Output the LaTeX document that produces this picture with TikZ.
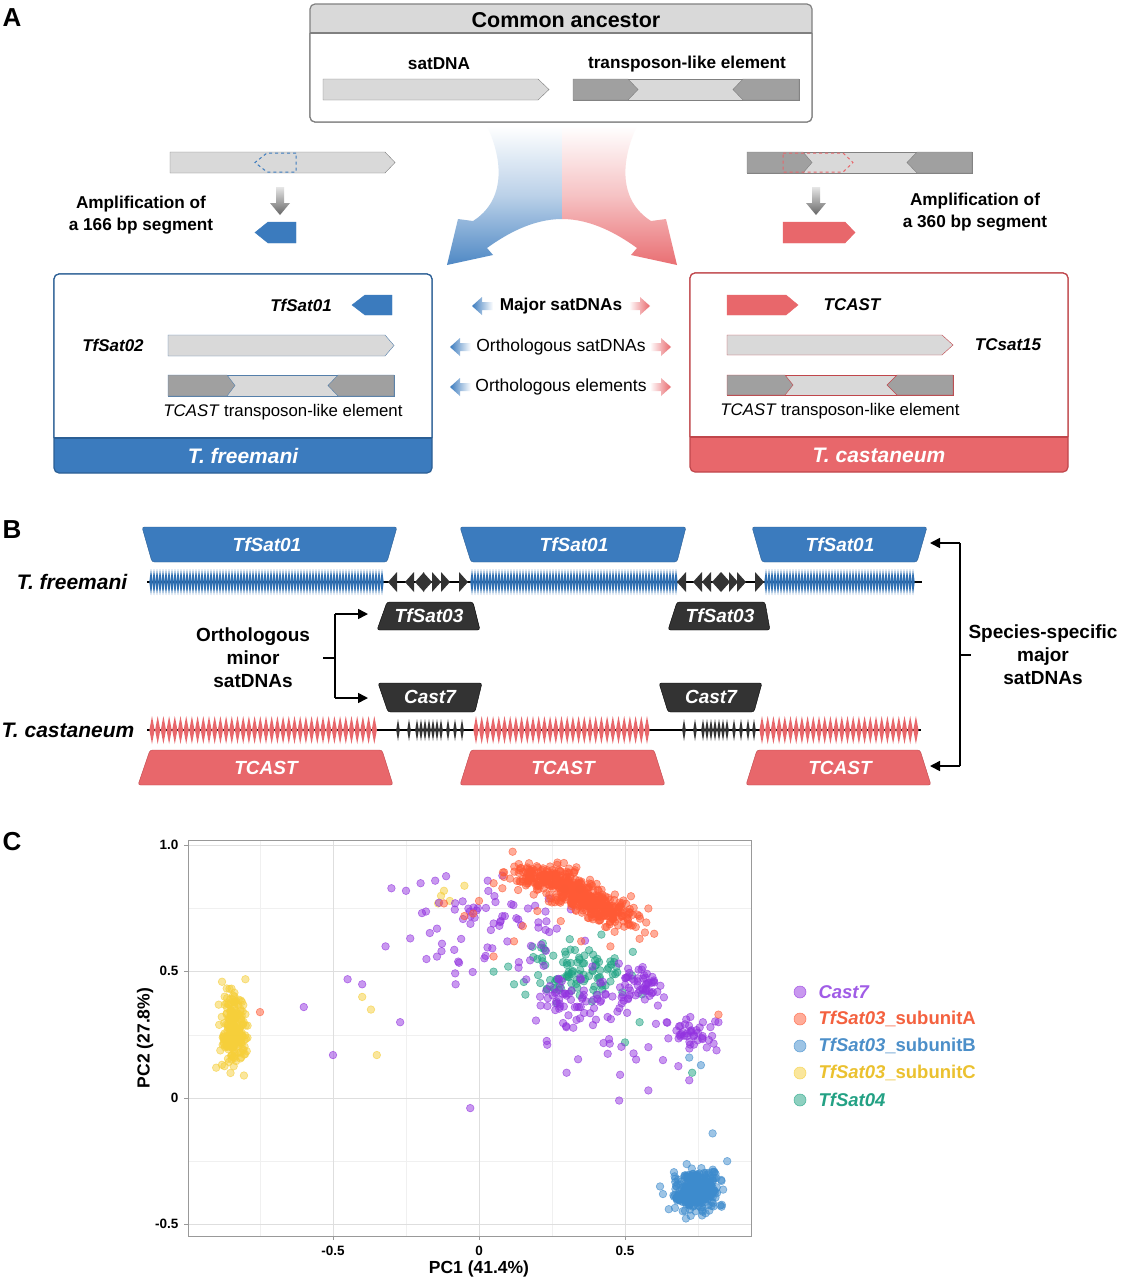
\documentclass[tikz,border=0pt]{standalone}
\usepackage{fontspec}
\setmainfont{Liberation Sans}
\usetikzlibrary{arrows.meta}
\definecolor{tfblue}{HTML}{3B7BBE}
\definecolor{tfbluedk}{HTML}{2B5F95}
\definecolor{tfteeth}{HTML}{2F6FB2}
\definecolor{tcred}{HTML}{E8676B}
\definecolor{tcreddk}{HTML}{C0464B}
\definecolor{lgray}{HTML}{D9D9D9}
\definecolor{dgray}{HTML}{A0A0A0}
\definecolor{bgray}{HTML}{808080}
\definecolor{dkbox}{HTML}{333333}
\definecolor{cpurp}{HTML}{9333E0}
\definecolor{corange}{HTML}{FF5A35}
\definecolor{cblue}{HTML}{3D8BCD}
\definecolor{cyellow}{HTML}{F6CF3A}
\definecolor{cteal}{HTML}{1FA383}
\definecolor{lpurp}{HTML}{A05CE6}
\definecolor{lorange}{HTML}{F4613F}
\definecolor{lblue}{HTML}{4C8FC9}
\definecolor{lyellow}{HTML}{EBC12F}
\definecolor{lteal}{HTML}{23A184}
\definecolor{gridmaj}{HTML}{DEDEDE}
\definecolor{gridmin}{HTML}{F0F0F0}
\newcommand\fsz[1]{\fontsize{#1}{#1}\selectfont}
% right-pointing pentagon: x1, tip, ytop, ybot, shoulder, style
\newcommand\rpent[6]{\draw[#6] (#1,#3) -- (#5,#3) -- (#2,{(#3+#4)/2}) -- (#5,#4) -- (#1,#4) -- cycle;}
% left-pointing pentagon: tip, x2, ytop, ybot, shoulder, style
\newcommand\lpent[6]{\draw[#6] (#2,#3) -- (#5,#3) -- (#1,{(#3+#4)/2}) -- (#5,#4) -- (#2,#4) -- cycle;}
% transposon element
\newcommand\telem[9]{%
 \draw[fill=lgray,draw=#9] (#1,#3) rectangle (#2,#4);
 \draw[fill=dgray,draw=#9] (#1,#3) -- (#6,#3) -- (#5,{(#3+#4)/2}) -- (#6,#4) -- (#1,#4) -- cycle;
 \draw[fill=dgray,draw=#9] (#2,#3) -- (#8,#3) -- (#7,{(#3+#4)/2}) -- (#8,#4) -- (#2,#4) -- cycle;}
% trapezoid: xtl, xtr, xbl, xbr, yt, yb, style
\newcommand\trapz[7]{\draw[#7,rounded corners=2.5pt] (#1,#5) -- (#2,#5) -- (#4,#6) -- (#3,#6) -- cycle;}
% small gradient legend arrows
\newcommand\bluearr[2]{\shade[left color=tfblue, right color=white] (#1,#2) -- (#1+10,#2-9) -- (#1+10,#2-4) -- (#1+21,#2-4) -- (#1+21,#2+4) -- (#1+10,#2+4) -- (#1+10,#2+9) -- cycle;}
\newcommand\redarr[2]{\shade[left color=white, right color=tcred] (#1,#2) -- (#1-10,#2-9) -- (#1-10,#2-4) -- (#1-21,#2-4) -- (#1-21,#2+4) -- (#1-10,#2+4) -- (#1-10,#2+9) -- cycle;}
\newcommand\downarr[1]{\shade[top color=white!80!gray, bottom color=black!60] (#1-4,187) -- (#1+4,187) -- (#1+4,203) -- (#1+10,203) -- (#1,215) -- (#1-10,203) -- (#1-4,203) -- cycle;}
% scatter clouds
\newcommand\gcloud[6]{\foreach \k in {1,...,#1}{%
 \pgfmathsetmacro\gx{479+292*((#2)+(#4)*(rand+rand+rand))}%
 \pgfmathsetmacro\gy{1098-252.7*((#3)+(#5)*(rand+rand+rand))}%
 \path[dot=#6] (\gx,\gy) circle[radius=3.8];}}
\newcommand\rcloud[7]{\foreach \k in {1,...,#1}{%
 \pgfmathsetmacro\ga{rand+rand+rand}%
 \pgfmathsetmacro\gb{rand+rand+rand}%
 \pgfmathsetmacro\gx{479+292*((#2)+(#4)*\ga)}%
 \pgfmathsetmacro\gy{1098-252.7*((#3)+(#6)*(#4)*\ga+(#5)*\gb)}%
 \path[dot=#7] (\gx,\gy) circle[radius=3.8];}}
\newcommand\dlist[2]{\foreach \a/\b in {#2}{\path[dot=#1] ({479+292*(\a)},{1098-252.7*(\b)}) circle[radius=3.8];}}
\begin{document}
\begin{tikzpicture}[x=1pt,y=-1pt,
  dot/.style={fill=#1, draw=#1, fill opacity=0.5, draw opacity=0.65, line width=0.6pt},
  panel/.style={font=\fsz{26}\bfseries},
  bt/.style={font=\fsz{17.2}\bfseries},
  bit/.style={font=\fsz{17}\bfseries\itshape},
  rt/.style={font=\fsz{17}},
  wt/.style={font=\fsz{19}\bfseries\itshape, text=white},
  arr/.style={-{Triangle[length=10pt,width=10pt]}, line width=1.6pt}]
\useasboundingbox (0,0) rectangle (1121,1280);
\fill[white] (0,0) rectangle (1121,1280);

% ================= Panel A =================
\node[panel] (lA) at (12,18) {A};
% common ancestor box
\draw[bgray, fill=lgray, line width=1.2pt, rounded corners=5pt] (310,4) rectangle (812,122);
\draw[bgray, fill=white, line width=1.2pt, rounded corners=5pt] (310,33) -- (310,122) -- (812,122) -- (812,33);
\draw[bgray, line width=1.2pt] (310,33) -- (812,33);
\node[font=\fsz{21.5}\bfseries] (ca) at (566,20) {Common ancestor};
\node[bt] (sd) at (439,64) {satDNA};
\node[bt] (tle) at (687,64) {transposon-like element};
\rpent{323}{549}{79}{100}{538}{fill=lgray, draw=bgray}
\telem{573}{799}{79}{100}{638}{628}{733}{743}{bgray}

% left amplification
\rpent{170}{395}{152}{173}{385}{fill=lgray, draw=bgray}
\lpent{255}{296}{153}{172}{267}{draw=tfblue, dashed, line width=1pt}
\downarr{280}
\lpent{255}{296}{222}{243}{268}{fill=tfblue, draw=tfblue}
\node[bt, align=center] (ampL) at (141,215) {Amplification of\\[5pt]a 166 bp segment};

% right amplification
\telem{747}{972}{152}{173}{812}{803}{907}{917}{bgray}
\rpent{783}{853}{153}{172}{843}{draw=tcred, dashed, line width=1pt}
\downarr{816}
\rpent{783}{855}{222}{243}{845}{fill=tcred, draw=tcred}
\node[bt, align=center] (ampR) at (975,212) {Amplification of\\[5pt]a 360 bp segment};

% big curved gradient arrows
\shade[top color=white, bottom color=tfblue!90, middle color=tfblue!35]
 (562,126) -- (487,126) .. controls (503,160) and (506,200) .. (473,221) -- (458,219) -- (447,265) -- (493,255) -- (487,248) .. controls (505,235) and (532,219) .. (562,219) -- cycle;
\shade[top color=white, bottom color=tcred!95, middle color=tcred!40]
 (562,126) -- (637,126) .. controls (621,160) and (618,200) .. (651,221) -- (666,219) -- (677,265) -- (631,255) -- (637,248) .. controls (619,235) and (592,219) .. (562,219) -- cycle;

% T. freemani box
\draw[tfbluedk, fill=tfblue, line width=1.2pt, rounded corners=5pt] (54,274) rectangle (432,473);
\draw[tfbluedk, fill=white, line width=1.2pt, rounded corners=5pt] (54,438) -- (54,274) -- (432,274) -- (432,438);
\draw[tfbluedk, line width=1.2pt] (54,438) -- (432,438);
\node[font=\fsz{21}\bfseries\itshape, text=white] (tfname) at (243,456) {T. freemani};
\node[bit] (tf01) at (301,305) {TfSat01};
\lpent{352}{392}{295}{315}{365}{fill=tfblue, draw=tfblue}
\node[bit] (tf02) at (113,345) {TfSat02};
\rpent{168}{394}{335}{356}{385}{fill=lgray, draw=tfbluedk!80}
\telem{168}{394}{375}{396}{235}{227}{328}{338}{tfbluedk!80}
\node[font=\fsz{16.8}] (tfte) at (283,412) {\textit{TCAST} transposon-like element};

% T. castaneum box
\draw[tcreddk, fill=tcred, line width=1.2pt, rounded corners=5pt] (690,273) rectangle (1068,472);
\draw[tcreddk, fill=white, line width=1.2pt, rounded corners=5pt] (690,437) -- (690,273) -- (1068,273) -- (1068,437);
\draw[tcreddk, line width=1.2pt] (690,437) -- (1068,437);
\node[font=\fsz{21}\bfseries\itshape, text=white] (tcname) at (879,455) {T. castaneum};
\rpent{727}{798}{295}{315}{786}{fill=tcred, draw=tcred}
\node[bit] (tcast) at (852,305) {TCAST};
\rpent{727}{953}{335}{355}{942}{fill=lgray, draw=tcreddk}
\node[bit] (tc15) at (1008,345) {TCsat15};
\telem{727}{953}{375}{395}{793}{785}{887}{897}{tcreddk}
\node[font=\fsz{16.8}] (tcte) at (840,411) {\textit{TCAST} transposon-like element};

% middle legend
\node[bt] (maj) at (561,306) {Major satDNAs};
\bluearr{472}{306}
\redarr{650}{306}
\node[font=\fsz{17.5}] (orts) at (561,347) {Orthologous satDNAs};
\bluearr{450}{347}
\redarr{671}{347}
\node[font=\fsz{17.5}] (orte) at (561,387) {Orthologous elements};
\bluearr{450}{387}
\redarr{671}{387}

% ================= Panel B =================
\node[panel] (lB) at (12,530) {B};
\node[font=\fsz{21}\bfseries\itshape] (tfB) at (72,582) {T. freemani};
\node[font=\fsz{21}\bfseries\itshape] (tcB) at (68,730) {T. castaneum};
\draw[line width=1.6pt] (147,582) -- (922,582);
\draw[line width=1.6pt] (147,730) -- (921,730);

% blue TfSat01 repeats
\foreach \x in {151,154,...,384} \fill[tfteeth] (\x,569) -- (\x+1.7,582) -- (\x,595) -- (\x-1.7,582) -- cycle;
\foreach \x in {472,475,...,676} \fill[tfteeth] (\x,569) -- (\x+1.7,582) -- (\x,595) -- (\x-1.7,582) -- cycle;
\foreach \x in {766,769,...,915} \fill[tfteeth] (\x,569) -- (\x+1.7,582) -- (\x,595) -- (\x-1.7,582) -- cycle;
% black TfSat03 arrows
\foreach \t in {388,405,415} \fill[dkbox] (\t,582) -- (\t+9,572) -- (\t+9,592) -- cycle;
\foreach \t in {432,441,450,468} \fill[dkbox] (\t,582) -- (\t-9,572) -- (\t-9,592) -- cycle;
\foreach \t in {677,693,702,712} \fill[dkbox] (\t,582) -- (\t+9,572) -- (\t+9,592) -- cycle;
\foreach \t in {730,738,746,764} \fill[dkbox] (\t,582) -- (\t-9,572) -- (\t-9,592) -- cycle;

% red TCAST repeats
\foreach \x in {152,157.7,...,377} \fill[tcred] (\x,716) -- (\x+2.6,730) -- (\x,744) -- (\x-2.6,730) -- cycle;
\foreach \x in {476,481.7,...,650} \fill[tcred] (\x,716) -- (\x+2.6,730) -- (\x,744) -- (\x-2.6,730) -- cycle;
\foreach \x in {762,767.7,...,917} \fill[tcred] (\x,716) -- (\x+2.6,730) -- (\x,744) -- (\x-2.6,730) -- cycle;
% black Cast7 repeats
\foreach \x in {398,409,417,421,425,429,433,437,441,448,455,462} \fill[dkbox] (\x,719) -- (\x+1.8,730) -- (\x,741) -- (\x-1.8,730) -- cycle;
\foreach \x in {684,695,703,707,711,715,719,723,727,734,741,748,754} \fill[dkbox] (\x,719) -- (\x+1.8,730) -- (\x,741) -- (\x-1.8,730) -- cycle;

% trapezoids
\trapz{142}{397}{152}{387}{527}{562}{fill=tfblue, draw=tfbluedk}
\trapz{460}{686}{471}{677}{527}{562}{fill=tfblue, draw=tfbluedk}
\trapz{752}{927}{762}{917}{527}{562}{fill=tfblue, draw=tfbluedk}
\node[wt] (b1) at (267,545) {TfSat01};
\node[wt] (b2) at (574,545) {TfSat01};
\node[wt] (b3) at (840,545) {TfSat01};
\trapz{387}{473}{377}{480}{602}{630}{fill=dkbox, draw=black}
\trapz{677}{765}{668}{770}{602}{630}{fill=dkbox, draw=black}
\node[wt] (s1) at (429,616) {TfSat03};
\node[wt] (s2) at (720,616) {TfSat03};
\trapz{378}{482}{388}{475}{683}{712}{fill=dkbox, draw=black}
\trapz{659}{762}{668}{754}{683}{712}{fill=dkbox, draw=black}
\node[wt] (c1) at (430,697) {Cast7};
\node[wt] (c2) at (711,697) {Cast7};
\trapz{150}{382}{138}{393}{750}{785}{fill=tcred, draw=tcreddk}
\trapz{471}{654}{460}{665}{750}{785}{fill=tcred, draw=tcreddk}
\trapz{757}{920}{746}{931}{750}{785}{fill=tcred, draw=tcreddk}
\node[wt] (t1) at (266,768) {TCAST};
\node[wt] (t2) at (563,768) {TCAST};
\node[wt] (t3) at (840,768) {TCAST};

% left bracket
\node[font=\fsz{19}\bfseries, align=center] (orthmin) at (253,658) {Orthologous\\[4pt]minor\\[4pt]satDNAs};
\coordinate (lbm) at (323,658);
\coordinate (lbv) at (335,658);
\coordinate (lbt) at (335,614);
\coordinate (lbb) at (335,698);
\coordinate (lat) at (368,614);
\coordinate (lab) at (368,698);
\draw[line width=1.6pt] (lbm) -- (lbv);
\draw[line width=1.6pt] (lbt) -- (lbb);
\draw[arr] (lbt) -- (lat);
\draw[arr] (lbb) -- (lab);

% right bracket
\node[font=\fsz{19}\bfseries, align=center] (spsp) at (1043,655) {Species-specific\\[4pt]major\\[4pt]satDNAs};
\coordinate (rbt) at (960,543);
\coordinate (rbb) at (960,766);
\coordinate (rbm) at (960,655);
\coordinate (rbmo) at (971,655);
\coordinate (rat) at (930,543);
\coordinate (rab) at (930,766);
\draw[line width=1.6pt] (rbt) -- (rbb);
\draw[line width=1.6pt] (rbm) -- (rbmo);
\draw[arr] (rbt) -- (rat);
\draw[arr] (rbb) -- (rab);

% ================= Panel C =================
\node[panel] (lC) at (12,842) {C};
% grid
\foreach \x in {260,406,552,698} \draw[gridmin, line width=0.6pt] (\x,840) -- (\x,1236);
\foreach \y in {908,1035,1161} \draw[gridmin, line width=0.6pt] (188,\y) -- (751,\y);
\foreach \x in {333,479,625} \draw[gridmaj, line width=1pt] (\x,840) -- (\x,1236);
\foreach \y in {845,971,1098,1224} \draw[gridmaj, line width=1pt] (188,\y) -- (751,\y);

\begin{scope}
\clip (188,840) rectangle (751,1236);
\pgfmathsetseed{4242}
% yellow: TfSat03 subunit C
\gcloud{220}{-0.84}{0.265}{0.021}{0.07}{cyellow}
\dlist{cyellow}{-0.13/0.80,-0.12/0.82,-0.14/0.77,-0.40/0.40,-0.35/0.17,-0.37/0.35,-0.05/0.84,-0.10/0.78,-0.88/0.46,-0.80/0.47,-0.90/0.12}
% blue: TfSat03 subunit B
\gcloud{320}{0.745}{-0.37}{0.037}{0.04}{cblue}
\dlist{cblue}{0.62/-0.35,0.63/-0.38,0.65/-0.44,0.67/-0.31,0.80/-0.14,0.85/-0.25,0.81/-0.30,0.76/0.13,0.72/0.16}
% teal: TfSat04
\gcloud{100}{0.33}{0.50}{0.085}{0.055}{cteal}
\dlist{cteal}{0.05/0.50,0.12/0.45,0.10/0.52,0.50/0.22,0.55/0.30,0.73/0.10,0.20/0.55}
% purple: Cast7
\gcloud{60}{0.32}{0.38}{0.07}{0.05}{cpurp}
\gcloud{55}{0.55}{0.45}{0.04}{0.05}{cpurp}
\gcloud{40}{0.72}{0.25}{0.04}{0.035}{cpurp}
\gcloud{70}{0.05}{0.68}{0.16}{0.09}{cpurp}
\gcloud{25}{0.45}{0.25}{0.12}{0.08}{cpurp}
\dlist{cpurp}{-0.60/0.36,-0.50/0.17,-0.45/0.47,-0.25/0.82,-0.30/0.83,-0.40/0.45,-0.27/0.30,-0.03/-0.04,0.30/0.10,0.48/-0.01,0.58/0.03,0.72/0.07,0.63/0.15,-0.20/0.85,-0.15/0.86,-0.18/0.55,-0.08/0.45,0.03/0.86,0.08/0.88,-0.32/0.60,0.82/0.30,0.78/0.20}
% orange: TfSat03 subunit A
\rcloud{420}{0.35}{0.80}{0.09}{0.035}{-0.5}{corange}
\gcloud{70}{0.22}{0.88}{0.06}{0.025}{corange}
\dlist{corange}{-0.12/0.77,-0.05/0.72,0.00/0.78,0.05/0.85,0.08/0.83,0.12/0.62,0.15/0.68,0.55/0.63,0.60/0.65,0.58/0.75,0.45/0.60,0.28/0.70,0.20/0.74,-0.02/0.73,0.82/0.33,-0.75/0.34,0.05/0.56,0.35/0.62}
\end{scope}
\draw[gray!80, line width=0.8pt] (188,840) rectangle (751,1236);
% ticks
\foreach \x in {333,479,625} \draw[gray!80, line width=0.8pt] (\x,1236) -- (\x,1240);
\foreach \y in {845,971,1098,1224} \draw[gray!80, line width=0.8pt] (184,\y) -- (188,\y);
\node[font=\fsz{13.5}\bfseries, anchor=east] (y1) at (182,845) {1.0};
\node[font=\fsz{13.5}\bfseries, anchor=east] (y2) at (182,971) {0.5};
\node[font=\fsz{13.5}\bfseries, anchor=east] (y3) at (182,1098) {0};
\node[font=\fsz{13.5}\bfseries, anchor=east] (y4) at (182,1224) {-0.5};
\node[font=\fsz{13.5}\bfseries] (x1) at (333,1251) {-0.5};
\node[font=\fsz{13.5}\bfseries] (x2) at (479,1251) {0};
\node[font=\fsz{13.5}\bfseries] (x3) at (625,1251) {0.5};
\node[font=\fsz{17.5}\bfseries] (xl) at (479,1269) {PC1 (41.4\%)};
\node[font=\fsz{17.5}\bfseries, rotate=90] (yl) at (145,1038) {PC2 (27.8\%)};

% legend
\path[dot=cpurp] (800,992) circle[radius=6];
\path[dot=corange] (800,1019) circle[radius=6];
\path[dot=cblue] (800,1046) circle[radius=6];
\path[dot=cyellow] (800,1073) circle[radius=6];
\path[dot=cteal] (800,1100) circle[radius=6];
\node[font=\fsz{18.5}\bfseries, anchor=west, text=lpurp] (g1) at (815,992) {\itshape Cast7};
\node[font=\fsz{18.5}\bfseries, anchor=west, text=lorange] (g2) at (815,1019) {\itshape TfSat03\upshape\_subunitA};
\node[font=\fsz{18.5}\bfseries, anchor=west, text=lblue] (g3) at (815,1046) {\itshape TfSat03\upshape\_subunitB};
\node[font=\fsz{18.5}\bfseries, anchor=west, text=lyellow] (g4) at (815,1073) {\itshape TfSat03\upshape\_subunitC};
\node[font=\fsz{18.5}\bfseries, anchor=west, text=lteal] (g5) at (815,1100) {\itshape TfSat04};
\end{tikzpicture}
\end{document}
